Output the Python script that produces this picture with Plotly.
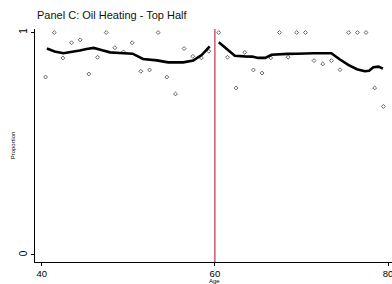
import plotly.graph_objects as go

# scatter points (binned proportions by age)
ages_left = [40.45, 41.45, 42.45, 43.45, 44.45, 45.45, 46.45, 47.45, 48.45, 49.45,
             50.45, 51.45, 52.45, 53.45, 54.45, 55.45, 56.45, 57.45, 58.45, 59.3]
prop_left = [0.800, 1.000, 0.886, 0.954, 0.967, 0.814, 0.889, 1.000, 0.932, 0.913,
             0.954, 0.826, 0.832, 1.000, 0.800, 0.724, 0.928, 0.893, 0.886, 0.916]
ages_right = [60.45, 61.45, 62.45, 63.45, 64.45, 65.45, 66.45, 67.45, 68.45, 69.45,
              70.45, 71.45, 72.45, 73.45, 74.45, 75.45, 76.45, 77.45, 78.45, 79.45]
prop_right = [1.000, 0.889, 0.751, 0.911, 0.832, 0.818, 0.886, 1.000, 0.889, 1.000,
              1.000, 0.874, 0.859, 0.874, 0.833, 1.000, 1.000, 1.000, 0.751, 0.668]

# smoothed fit lines
fit_x_left = [40.6, 41.5, 42.5, 43.5, 44.4, 45.2, 46.0, 47.0, 47.9, 49.0, 50.5,
              51.7, 53.3, 54.6, 56.35, 57.5, 58.5, 59.4]
fit_y_left = [0.928, 0.915, 0.907, 0.912, 0.919, 0.926, 0.931, 0.920, 0.911, 0.908,
              0.905, 0.881, 0.875, 0.866, 0.866, 0.874, 0.900, 0.938]
fit_x_right = [60.45, 61.4, 62.3, 63.4, 64.3, 65.0, 65.8, 66.55, 67.4, 68.4, 69.45,
               70.4, 71.4, 72.4, 73.45, 74.4, 75.4, 76.4, 77.3, 77.8, 78.3, 78.9, 79.4]
fit_y_right = [0.956, 0.925, 0.896, 0.893, 0.892, 0.886, 0.886, 0.900, 0.903, 0.904,
               0.905, 0.907, 0.907, 0.907, 0.907, 0.880, 0.855, 0.835, 0.826, 0.828,
               0.844, 0.847, 0.838]

cutoff = 60
x_ticks = [40, 60, 80]
y_ticks = [0, 1]

fig = go.Figure()
marker = dict(symbol="diamond-open", size=3, color="#555555", line=dict(width=0.9, color="#555555"))
fig.add_trace(go.Scatter(x=ages_left, y=prop_left, mode="markers", marker=marker, showlegend=False))
fig.add_trace(go.Scatter(x=ages_right, y=prop_right, mode="markers", marker=marker, showlegend=False))
fig.add_trace(go.Scatter(x=fit_x_left, y=fit_y_left, mode="lines",
                         line=dict(color="black", width=2.6), showlegend=False))
fig.add_trace(go.Scatter(x=fit_x_right, y=fit_y_right, mode="lines",
                         line=dict(color="black", width=2.6), showlegend=False))

fig.add_shape(type="line", x0=cutoff, x1=cutoff, y0=0, y1=1, xref="x", yref="paper",
              line=dict(color="#c2304f", width=1.2))

fig.add_annotation(text="Age", x=cutoff, xref="x", y=-(280.5 - 262) / 233, yref="paper",
                   yanchor="middle", showarrow=False, font=dict(size=6))

fig.update_layout(
    width=392, height=284,
    margin=dict(l=35, r=0, t=29, b=22, autoexpand=False),
    paper_bgcolor="white", plot_bgcolor="white",
    font=dict(family="Liberation Sans, Arial, sans-serif", color="black"),
    title=dict(text="Panel C: Oil Heating - Top Half", x=37/392, xanchor="left",
               xref="container", y=1-15/284, yanchor="middle", yref="container",
               font=dict(size=11, color="#111111")),
    xaxis=dict(range=[39.23, 80.45], tickvals=x_ticks, ticktext=[str(v) for v in x_ticks],
               showgrid=False, zeroline=False, showline=True, linecolor="black", linewidth=1,
               ticks="outside", ticklen=3, tickcolor="black", tickfont=dict(size=9.5),
               automargin=False, ticklabeloverflow="allow"),
    yaxis=dict(range=[-0.0315, 1.016], tickvals=y_ticks, ticktext=[str(v) for v in y_ticks],
               showgrid=False, zeroline=False, showline=True, linecolor="black", linewidth=1,
               ticks="outside", ticklen=3, tickcolor="black", tickfont=dict(size=10),
               tickangle=-90, automargin=False,
               title=dict(text="Proportion", font=dict(size=6), standoff=1)),
)

fig.write_html("out.html", config={"displayModeBar": False, "staticPlot": True},
               post_script="document.body.style.margin='0';document.body.style.overflow='hidden';")
